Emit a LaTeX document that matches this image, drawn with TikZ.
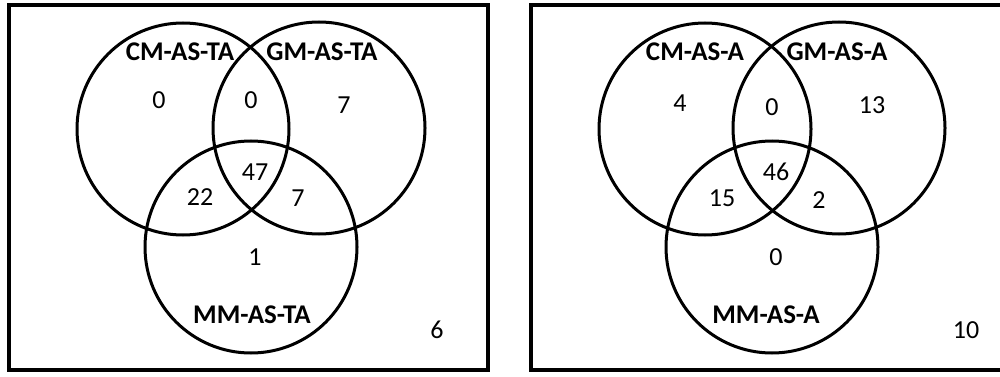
\documentclass[tikz,border=0pt]{standalone}
\usepackage{fontspec}
\setmainfont{Carlito}
\begin{document}
\begin{tikzpicture}[x=1pt,y=-1pt,
  frame/.style={draw=black,line width=4pt},
  setc/.style={draw=black,line width=3pt,circle,minimum size=212pt,inner sep=0pt},
  num/.style={font=\fontsize{26}{30}\selectfont,inner sep=0pt},
  lbl/.style={font=\fontsize{27}{31}\selectfont\bfseries,inner sep=0pt}]
\useasboundingbox (0,0) rectangle (1000,377);
% left panel
\node[frame,minimum width=479pt,minimum height=365pt,inner sep=0pt] (boxL) at (248.5,187.5) {};
\node[setc] (cmL) at (183,129) {};
\node[setc] (gmL) at (319,128) {};
\node[setc] (mmL) at (251,247) {};
\node[lbl] (tCL) at (180,52) {CM-AS-TA};
\node[lbl] (tGL) at (322,52) {GM-AS-TA};
\node[lbl] (tML) at (252,315) {MM-AS-TA};
\node[num] (a1) at (159,100) {0};
\node[num] (a2) at (251,100) {0};
\node[num] (a3) at (344,105) {7};
\node[num] (a4) at (255,172) {47};
\node[num] (a5) at (200,197) {22};
\node[num] (a6) at (298,198) {7};
\node[num] (a7) at (255,257) {1};
\node[num] (a8) at (437,330) {6};
% right panel
\node[frame,minimum width=480pt,minimum height=365pt,inner sep=0pt] (boxR) at (771,187.5) {};
\node[setc] (cmR) at (705,129) {};
\node[setc] (gmR) at (839,128) {};
\node[setc] (mmR) at (772,247) {};
\node[lbl] (tCR) at (695,52) {CM-AS-A};
\node[lbl] (tGR) at (837,52) {GM-AS-A};
\node[lbl] (tMR) at (766,315) {MM-AS-A};
\node[num] (b1) at (680,103) {4};
\node[num] (b2) at (772,107) {0};
\node[num] (b3) at (872,105) {13};
\node[num] (b4) at (776,172) {46};
\node[num] (b5) at (722,198) {15};
\node[num] (b6) at (819,200) {2};
\node[num] (b7) at (776,257) {0};
\node[num] (b8) at (966,330) {10};
\end{tikzpicture}
\end{document}
